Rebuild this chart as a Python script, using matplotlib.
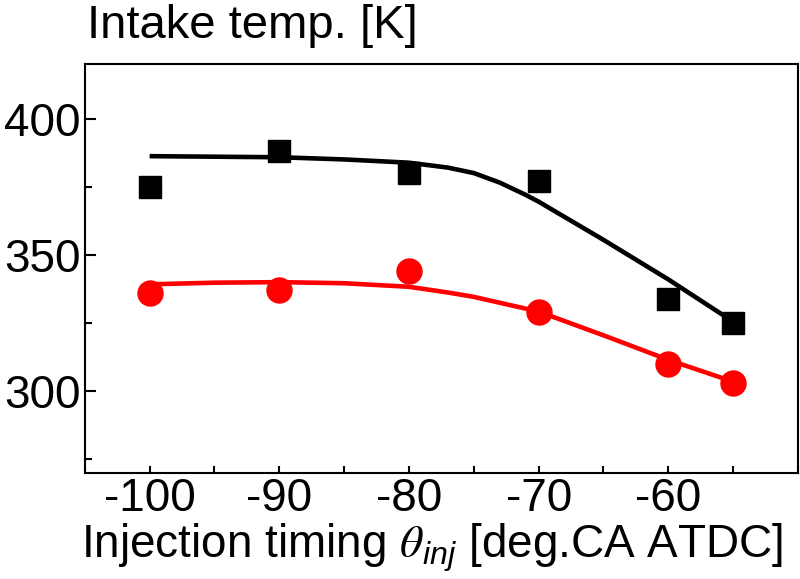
import numpy as np
import matplotlib
matplotlib.use("Agg")
import matplotlib.pyplot as plt
from matplotlib.ticker import MultipleLocator

# measured data
timing = [-100, -90, -80, -70, -60, -55]
temp_black = [375, 388, 380, 377, 334, 325]
temp_red = [336, 337, 344, 329, 310, 303]

# fitted curves
fit_x_black = [-100, -95, -90, -85, -80, -77, -75, -73, -71, -70, -65, -60, -55]
fit_y_black = [386.2, 386.0, 385.8, 385.0, 383.8, 382.0, 380.0, 376.5, 372.0, 369.5, 355.5, 341.0, 325.5]
fit_x_red = [-100, -95, -90, -85, -80, -77, -75, -70, -65, -60, -55]
fit_y_red = [339.2, 339.8, 340.0, 339.6, 338.3, 336.2, 334.6, 329.2, 320.5, 311.5, 303.5]

xticks = [-100, -90, -80, -70, -60]
yticks = [300, 350, 400]

plt.rcParams['font.family'] = ['Liberation Sans', 'DejaVu Sans']
plt.rcParams['mathtext.fontset'] = 'custom'
plt.rcParams['mathtext.rm'] = 'Liberation Sans'
plt.rcParams['mathtext.it'] = 'Liberation Sans:italic'
plt.rcParams['mathtext.cal'] = 'STIXGeneral:italic'

fig = plt.figure(figsize=(8, 5.79), dpi=100)
ax = fig.add_axes([0.106, 0.183, 0.8915, 0.7065])

ax.plot(fit_x_black, fit_y_black, color='black', lw=3.3, solid_capstyle='butt', zorder=2)
ax.plot(fit_x_red, fit_y_red, color='#ff0000', lw=3.3, solid_capstyle='butt', zorder=2)
ax.plot(timing, temp_black, linestyle='none', marker='s', ms=16, color='black', zorder=3)
ax.plot(timing, temp_red, linestyle='none', marker='o', ms=18, color='#ff0000', zorder=3)

ax.set_xlim(-105, -50)
ax.set_ylim(270, 420)
ax.set_xticks(xticks)
ax.set_xticklabels([str(v) for v in xticks])
ax.set_yticks(yticks)
ax.set_yticklabels([str(v) for v in yticks])
ax.xaxis.set_minor_locator(MultipleLocator(5))
ax.yaxis.set_minor_locator(MultipleLocator(25))

ax.tick_params(axis='both', which='both', direction='in', top=False, right=False, labelsize=33, width=1.5)
ax.tick_params(axis='x', which='major', length=5, pad=3)
ax.tick_params(axis='x', which='minor', length=5)
ax.tick_params(axis='y', which='major', length=8, pad=3)
ax.tick_params(axis='y', which='minor', length=5)
for s in ax.spines.values():
    s.set_linewidth(1.5)

fig.text(0.109, 0.993, 'Intake temp. [K]', fontsize=34, ha='left', va='top')
ax.set_xlabel(r'Injection timing $\mathcal{\theta}_{inj}$ [deg.CA ATDC]', fontsize=33, labelpad=0)
ax.xaxis.label.set_x(0.487)

fig.savefig('out.png', dpi=100)
